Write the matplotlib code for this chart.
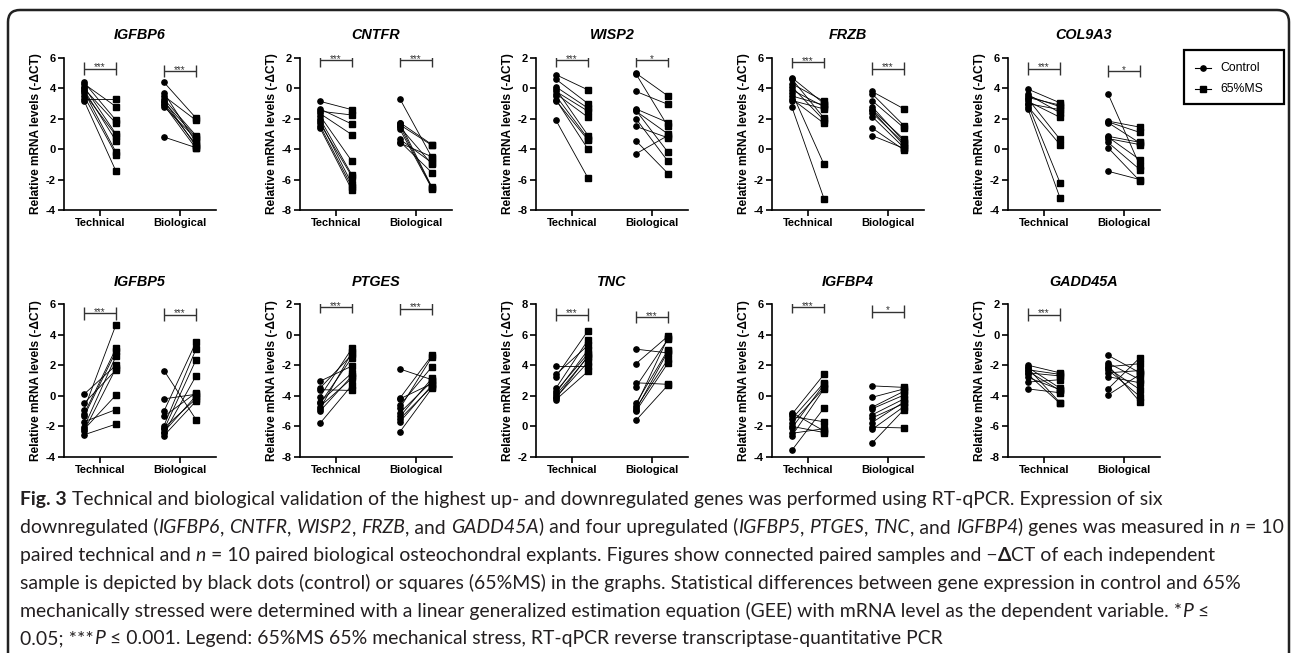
import matplotlib
matplotlib.use("Agg")
import matplotlib.pyplot as plt
from matplotlib.patches import FancyBboxPatch, Rectangle
from matplotlib.lines import Line2D
from matplotlib.transforms import IdentityTransform

# ---------------- data ----------------
GENES = ["IGFBP6", "CNTFR", "WISP2", "FRZB", "COL9A3",
         "IGFBP5", "PTGES", "TNC", "IGFBP4", "GADD45A"]
GROUPS = ["Technical", "Biological"]
YLIMS = [(-4, 6), (-8, 2), (-8, 2), (-4, 6), (-4, 6),
         (-4, 6), (-8, 2), (-2, 8), (-4, 6), (-8, 2)]
SIGNIF = [("***", "***"), ("***", "***"), ("***", "*"), ("***", "***"), ("***", "*"),
          ("***", "***"), ("***", "***"), ("***", "***"), ("***", "*"), ("***", "")]
BRACKET_Y = [(5.3, 5.15), (1.85, 1.85), (1.85, 1.85), (5.75, 5.3), (5.3, 5.15),
             (5.4, 5.3), (1.8, 1.7), (7.3, 7.15), (5.8, 5.5), (1.3, None)]

igfbp6_tech_ctrl = [4.4, 4.3, 4.1, 4.0, 3.9, 3.8, 3.7, 3.5, 3.3, 3.2]
igfbp6_tech_ms = [1.9, 2.8, 1.0, 1.7, 0.55, -0.2, 0.9, -0.35, 3.3, -1.45]
igfbp6_bio_ctrl = [4.4, 3.7, 3.5, 3.3, 3.2, 3.1, 3.0, 2.9, 2.8, 0.8]
igfbp6_bio_ms = [2.05, 0.45, 1.9, 0.9, 0.2, 0.8, 0.3, 0.05, 0.7, 0.1]

cntfr_tech_ctrl = [-0.85, -1.35, -1.5, -1.65, -1.8, -2.0, -2.15, -2.3, -2.45, -2.6]
cntfr_tech_ms = [-1.4, -2.35, -1.75, -3.05, -4.8, -5.7, -6.3, -5.8, -6.5, -6.7]
cntfr_bio_ctrl = [-0.7, -2.25, -2.3, -2.4, -2.5, -2.55, -2.7, -3.35, -3.5, -3.6]
cntfr_bio_ms = [-4.55, -3.7, -6.5, -3.75, -6.55, -5.0, -6.6, -4.9, -5.55, -4.5]

wisp2_tech_ctrl = [0.9, 0.6, 0.1, -0.05, -0.2, -0.35, -0.5, -0.75, -0.8, -2.1]
wisp2_tech_ms = [-0.1, -1.0, -1.3, -3.1, -1.5, -1.9, -3.3, -4.0, -3.4, -5.9]
wisp2_bio_ctrl = [1.0, 0.95, -0.2, -1.35, -1.45, -1.5, -2.0, -2.5, -3.45, -4.3]
wisp2_bio_ms = [-0.5, -2.5, -1.05, -2.25, -4.2, -3.0, -4.8, -3.25, -5.6, -3.1]

frzb_tech_ctrl = [4.7, 4.6, 4.3, 4.1, 3.9, 3.7, 3.5, 3.3, 3.2, 2.75]
frzb_tech_ms = [3.0, 2.05, 3.15, 1.9, 2.8, -1.0, 2.9, 1.7, 2.65, -3.25]
frzb_bio_ctrl = [3.8, 3.65, 3.2, 2.8, 2.6, 2.55, 2.4, 2.15, 1.4, 0.9]
frzb_bio_ms = [2.65, 1.55, 1.4, 0.5, 0.65, 0.25, 0.4, 0.1, -0.05, 0.05]

col9a3_tech_ctrl = [3.95, 3.6, 3.5, 3.4, 3.3, 3.15, 3.0, 2.95, 2.8, 2.65]
col9a3_tech_ms = [3.05, 2.4, 2.8, 2.9, 0.65, 2.1, 2.6, -2.2, 0.3, -3.2]
col9a3_bio_ctrl = [3.65, 1.85, 1.8, 1.75, 0.85, 0.8, 0.7, 0.45, 0.1, -1.45]
col9a3_bio_ms = [-1.1, 1.45, 1.1, 0.4, 0.45, -0.7, 0.3, -1.35, -2.1, -2.0]

igfbp5_tech_ctrl = [0.1, -0.5, -0.9, -1.2, -1.35, -1.7, -2.05, -2.2, -2.3, -2.55]
igfbp5_tech_ms = [2.0, 1.7, 4.65, 3.1, 2.9, -0.9, 2.6, 0.05, 1.8, -1.85]
igfbp5_bio_ctrl = [1.65, -0.2, -1.0, -1.35, -1.95, -2.1, -2.2, -2.35, -2.45, -2.6]
igfbp5_bio_ms = [-1.55, 0.1, 3.5, 0.2, 3.05, -0.2, 2.35, 0.0, 1.3, -0.35]

ptges_tech_ctrl = [-3.05, -3.5, -3.6, -4.05, -4.4, -4.5, -4.7, -4.85, -5.0, -5.8]
ptges_tech_ms = [-2.05, -1.3, -3.65, -0.9, -2.5, -1.5, -2.85, -1.15, -2.7, -3.3]
ptges_bio_ctrl = [-2.25, -4.15, -4.2, -4.6, -4.8, -5.1, -5.35, -5.5, -5.7, -6.35]
ptges_bio_ms = [-2.95, -1.35, -3.2, -2.1, -1.45, -3.05, -2.85, -3.4, -3.3, -3.5]

tnc_tech_ctrl = [3.95, 3.4, 3.25, 2.5, 2.3, 2.2, 2.05, 1.9, 1.85, 1.75]
tnc_tech_ms = [3.95, 5.3, 6.25, 5.65, 4.75, 5.0, 4.55, 4.2, 4.6, 3.6]
tnc_bio_ctrl = [5.05, 4.1, 2.85, 2.6, 1.5, 1.35, 1.2, 1.1, 1.0, 0.4]
tnc_bio_ms = [4.8, 5.9, 2.75, 5.7, 5.0, 5.8, 4.4, 4.9, 4.15, 2.7]

igfbp4_tech_ctrl = [-1.1, -1.2, -1.35, -1.5, -1.75, -2.0, -2.1, -2.45, -2.6, -3.55]
igfbp4_tech_ms = [-2.3, 1.4, -1.7, 0.85, 0.5, -2.4, 0.75, -2.15, 0.45, -0.8]
igfbp4_bio_ctrl = [0.65, -0.1, -0.75, -0.85, -1.25, -1.45, -1.75, -2.05, -2.2, -3.1]
igfbp4_bio_ms = [0.55, 0.45, 0.3, 0.05, -0.2, -0.5, -0.4, -2.1, -0.7, -0.9]

gadd45a_tech_ctrl = [-2.0, -2.15, -2.2, -2.3, -2.4, -2.5, -2.6, -2.8, -3.1, -3.55]
gadd45a_tech_ms = [-2.5, -3.5, -4.45, -2.6, -3.65, -2.7, -4.5, -3.6, -2.95, -3.8]
gadd45a_bio_ctrl = [-1.35, -1.85, -2.0, -2.1, -2.2, -2.3, -2.5, -2.75, -3.55, -3.95]
gadd45a_bio_ms = [-2.5, -2.95, -4.4, -1.9, -3.6, -4.05, -2.35, -3.15, -1.5, -2.6]

PANEL_DATA = [
    ((igfbp6_tech_ctrl, igfbp6_tech_ms), (igfbp6_bio_ctrl, igfbp6_bio_ms)),
    ((cntfr_tech_ctrl, cntfr_tech_ms), (cntfr_bio_ctrl, cntfr_bio_ms)),
    ((wisp2_tech_ctrl, wisp2_tech_ms), (wisp2_bio_ctrl, wisp2_bio_ms)),
    ((frzb_tech_ctrl, frzb_tech_ms), (frzb_bio_ctrl, frzb_bio_ms)),
    ((col9a3_tech_ctrl, col9a3_tech_ms), (col9a3_bio_ctrl, col9a3_bio_ms)),
    ((igfbp5_tech_ctrl, igfbp5_tech_ms), (igfbp5_bio_ctrl, igfbp5_bio_ms)),
    ((ptges_tech_ctrl, ptges_tech_ms), (ptges_bio_ctrl, ptges_bio_ms)),
    ((tnc_tech_ctrl, tnc_tech_ms), (tnc_bio_ctrl, tnc_bio_ms)),
    ((igfbp4_tech_ctrl, igfbp4_tech_ms), (igfbp4_bio_ctrl, igfbp4_bio_ms)),
    ((gadd45a_tech_ctrl, gadd45a_tech_ms), (gadd45a_bio_ctrl, gadd45a_bio_ms)),
]
LEGEND_LABELS = ["Control", "65%MS"]

# ---------------- figure ----------------
W, H = 1292, 653
plt.rcParams["axes.unicode_minus"] = False
plt.rcParams["font.family"] = ["Liberation Sans", "DejaVu Sans"]

fig = plt.figure(figsize=(W / 100, H / 100), dpi=100)
fig.patch.set_facecolor("white")


def px_rect(x0, ytop, w, h):
    return [x0 / W, 1 - (ytop + h) / H, w / W, h / H]


AX_W = 152
ROW_TOP = [58, 304]
ROW_H = [152, 153]
TITLE_PAD = [14, 13.3]
OFF = 0.2

for i, gene in enumerate(GENES):
    row, col = divmod(i, 5)
    left = 64 + 236 * col
    ax = fig.add_axes(px_rect(left, ROW_TOP[row], AX_W, ROW_H[row]))
    ylo, yhi = YLIMS[i]
    ax.set_xlim(-0.45, 1.45)
    ax.set_ylim(ylo, yhi)
    for g, (ctrl, ms) in enumerate(PANEL_DATA[i]):
        for c, m in zip(ctrl, ms):
            ax.plot([g - OFF, g + OFF], [c, m], color="black", lw=0.6, zorder=2)
        ax.plot([g - OFF] * len(ctrl), ctrl, "o", ms=3.8, color="black", zorder=3)
        ax.plot([g + OFF] * len(ms), ms, "s", ms=4.1, color="black", zorder=3)
        star = SIGNIF[i][g]
        by = BRACKET_Y[i][g]
        if star and by is not None:
            kw = dict(color="#333333", lw=1.0, solid_capstyle="butt", zorder=4)
            ax.plot([g - OFF, g + OFF], [by, by], **kw)
            ax.plot([g - OFF, g - OFF], [by - 0.42, by + 0.42], **kw)
            ax.plot([g + OFF, g + OFF], [by - 0.42, by + 0.42], **kw)
            ax.text(g, by - 0.12, star, ha="center", va="baseline",
                    fontsize=7, color="#333333", zorder=4)
    ax.spines["top"].set_visible(False)
    ax.spines["right"].set_visible(False)
    for s in ("left", "bottom"):
        ax.spines[s].set_linewidth(1.2)
    ax.set_xticks([0, 1])
    ax.set_xticklabels(GROUPS, fontweight="bold", fontsize=8)
    ax.set_yticks(list(range(ylo, yhi + 1, 2)))
    ax.set_yticklabels([str(v) for v in range(ylo, yhi + 1, 2)],
                       fontweight="bold", fontsize=8)
    ax.tick_params(length=4, width=1.2, pad=2)
    ax.set_ylabel("Relative mRNA levels (-\u0394CT)", fontsize=8.6,
                  fontweight="bold", labelpad=3)
    ax.set_title(gene, fontsize=10.4, fontweight="bold", fontstyle="italic",
                 pad=TITLE_PAD[row])

# ---------------- legend (drawn by hand) ----------------
ident = IdentityTransform()
fig.add_artist(Rectangle((1184, H - 104), 100, 54, transform=ident,
                         fill=False, lw=1.6, ec="black"))
for k, (lab, mk, msz) in enumerate(zip(LEGEND_LABELS, ["o", "s"], [3.8, 4.1])):
    yy = H - (68 + 21 * k)
    fig.add_artist(Line2D([1195, 1203, 1211], [yy, yy, yy], transform=ident,
                          color="black", lw=0.8, marker=mk, ms=msz, markevery=[1]))
    fig.text(1220 / W, yy / H, lab, fontsize=8.8, va="center", ha="left")

# ---------------- outer rounded frame ----------------
fig.add_artist(FancyBboxPatch((8, -30), 1281, H - 10 + 30, transform=ident,
                              boxstyle="round,pad=0,rounding_size=12",
                              fill=False, lw=1.8, ec="#222222"))

# ---------------- caption ----------------
CAP_FAMILY = ["Lato", "DejaVu Sans"]
CAP_COLOR = "#231f20"
N, I, B = "n", "i", "b"
CAPTION = [
    [("Fig. 3", B), (" Technical and biological validation of the highest up- and downregulated genes was performed using RT-qPCR. Expression of six", N)],
    [("downregulated (", N), ("IGFBP6", I), (", ", N), ("CNTFR", I), (", ", N), ("WISP2", I), (", ", N),
     ("FRZB", I), (", and ", N), ("GADD45A", I), (") and four upregulated (", N), ("IGFBP5", I), (", ", N),
     ("PTGES", I), (", ", N), ("TNC", I), (", and ", N), ("IGFBP4", I), (") genes was measured in ", N),
     ("n", I), (" = 10", N)],
    [("paired technical and ", N), ("n", I), (" = 10 paired biological osteochondral explants. Figures show connected paired samples and \u2212", N),
     ("\u0394", B), ("CT of each independent", N)],
    [("sample is depicted by black dots (control) or squares (65%MS) in the graphs. Statistical differences between gene expression in control and 65%", N)],
    [("mechanically stressed were determined with a linear generalized estimation equation (GEE) with mRNA level as the dependent variable. *", N),
     ("P", I), (" \u2264", N)],
    [("0.05; ***", N), ("P", I), (" \u2264 0.001. Legend: 65%MS 65% mechanical stress, RT-qPCR reverse transcriptase-quantitative PCR", N)],
]
CAP_LINE_END = [1189, 1262, 1249, 1262, 1222, 927]
CAP_BASELINES = [505, 533, 561, 589, 617, 644]
CAP_X0 = 20

renderer = fig.canvas.get_renderer()


def style_kw(st, size):
    kw = dict(fontsize=size, family=CAP_FAMILY, color=CAP_COLOR)
    if st == I:
        kw["fontstyle"] = "italic"
    if st == B:
        kw["fontweight"] = "bold"
    return kw


def text_w(s, st, size):
    t = fig.text(0, 0, s, **style_kw(st, size))
    w = t.get_window_extent(renderer).width
    t.remove()
    return w


def run_w(s, st, size):
    return text_w(s + "|", st, size) - text_w("|", st, size)


base = 10.0
fits = []
for line, xend in zip(CAPTION, CAP_LINE_END):
    wl = sum(run_w(s, st, base) for s, st in line)
    fits.append(base * (xend - CAP_X0) / wl)
fits.sort()
cap_size = fits[len(fits) // 2]          # median fit
cap_size = min(cap_size, fits[0] * (1280 - CAP_X0) / (1262 - CAP_X0))  # never overflow

for line, yb in zip(CAPTION, CAP_BASELINES):
    x = float(CAP_X0)
    for s, st in line:
        fig.text(x / W, 1 - yb / H, s, va="baseline", ha="left", **style_kw(st, cap_size))
        x += run_w(s, st, cap_size)

fig.savefig("out.png", dpi=100, facecolor="white")
